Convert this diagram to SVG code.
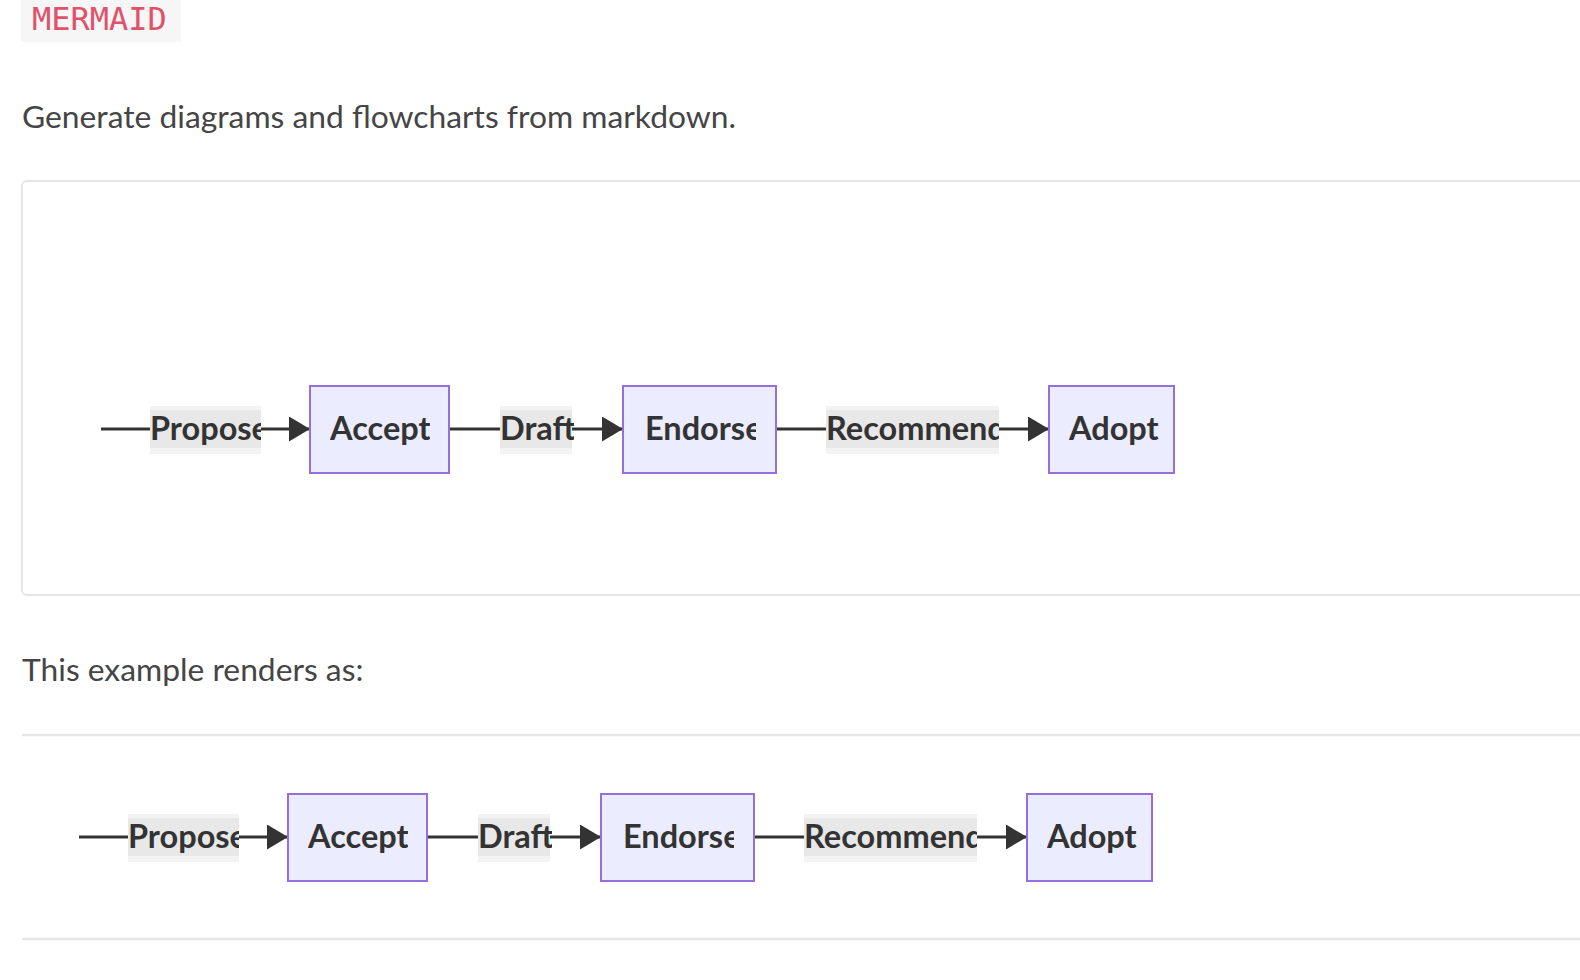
<svg xmlns="http://www.w3.org/2000/svg" width="1580" height="980" viewBox="0 0 1580 980">
<defs>
<style>
.body{font-family:Lato,"Open Sans","Liberation Sans",sans-serif;font-size:31.8px;fill:#454545}
.code{font-family:"DejaVu Sans Mono","Liberation Mono",monospace;font-size:32px;fill:#e0526a}
.node rect{fill:#ECECFF;stroke:#9370DB;stroke-width:2}
.ntext{font-family:Lato,"Open Sans","Liberation Sans",sans-serif;font-size:32.5px;font-weight:700;fill:#333}
.edge{stroke:#333;stroke-width:3.2;fill:none}
.lbl-outer{fill:#f3f3f3}
.lbl-inner{fill:#e8e8e8}
.rule{stroke:#e6e6e6;stroke-width:2.5}
</style>
<marker id="arrow" markerUnits="userSpaceOnUse" markerWidth="22" markerHeight="26" refX="21" refY="12.5" orient="auto">
<path d="M0,0 L21,12.5 L0,25 z" fill="#333"/>
</marker>
<clipPath id="c-propose"><rect x="150" y="400" width="111" height="60"/></clipPath>
<clipPath id="c-draft"><rect x="500" y="400" width="74" height="60"/></clipPath>
<clipPath id="c-recommend"><rect x="826" y="400" width="173" height="60"/></clipPath>
<clipPath id="c-accept"><rect x="330" y="390" width="100" height="80"/></clipPath>
<clipPath id="c-endorse"><rect x="645" y="390" width="111" height="80"/></clipPath>
<clipPath id="c-adopt"><rect x="1069" y="390" width="94" height="80"/></clipPath>
</defs>
<rect width="1580" height="980" fill="#ffffff"/>

<g id="header">
<rect x="21" y="-4" width="160" height="46" fill="#f6f6f6"/>
<text class="code" x="32" y="30">MERMAID</text>
<text class="body" x="22" y="128">Generate diagrams and flowcharts from markdown.</text>
</g>

<rect id="code-box" x="22" y="181" width="1600" height="414" rx="5" fill="none" stroke="#e6e6e6" stroke-width="2"/>

<g id="diagram-top">
<g id="top-edges">
<line class="edge" x1="101" y1="429" x2="310" y2="429" marker-end="url(#arrow)"/>
<line class="edge" x1="449" y1="429" x2="623" y2="429" marker-end="url(#arrow)"/>
<line class="edge" x1="776" y1="429" x2="1049" y2="429" marker-end="url(#arrow)"/>
<g id="top-label-propose"><rect class="lbl-outer" x="150" y="406" width="111" height="48"/><rect class="lbl-inner" x="150" y="410" width="111" height="38"/><text class="ntext" x="150" y="440" clip-path="url(#c-propose)">Propose</text></g>
<g id="top-label-draft"><rect class="lbl-outer" x="500" y="406" width="72" height="48"/><rect class="lbl-inner" x="500" y="410" width="72" height="38"/><text class="ntext" x="500" y="440" clip-path="url(#c-draft)">Draft</text></g>
<g id="top-label-recommend"><rect class="lbl-outer" x="826" y="406" width="173" height="48"/><rect class="lbl-inner" x="826" y="410" width="173" height="38"/><text class="ntext" x="826" y="440" clip-path="url(#c-recommend)">Recommend</text></g>
</g>
<g id="top-accept" class="node"><rect x="310" y="386" width="139" height="87"/><text class="ntext" x="330" y="440" clip-path="url(#c-accept)">Accept</text></g>
<g id="top-endorse" class="node"><rect x="623" y="386" width="153" height="87"/><text class="ntext" x="645" y="440" clip-path="url(#c-endorse)">Endorse</text></g>
<g id="top-adopt" class="node"><rect x="1049" y="386" width="125" height="87"/><text class="ntext" x="1069" y="440" clip-path="url(#c-adopt)">Adopt</text></g>
</g>

<text class="body" x="22" y="681">This example renders as:</text>
<line class="rule" x1="22" y1="735" x2="1580" y2="735"/>

<g id="diagram-bottom" transform="translate(-22,408)">
<g id="bottom-edges">
<line class="edge" x1="101" y1="429" x2="310" y2="429" marker-end="url(#arrow)"/>
<line class="edge" x1="449" y1="429" x2="623" y2="429" marker-end="url(#arrow)"/>
<line class="edge" x1="776" y1="429" x2="1049" y2="429" marker-end="url(#arrow)"/>
<g id="bottom-label-propose"><rect class="lbl-outer" x="150" y="406" width="111" height="48"/><rect class="lbl-inner" x="150" y="410" width="111" height="38"/><text class="ntext" x="150" y="440" clip-path="url(#c-propose)">Propose</text></g>
<g id="bottom-label-draft"><rect class="lbl-outer" x="500" y="406" width="72" height="48"/><rect class="lbl-inner" x="500" y="410" width="72" height="38"/><text class="ntext" x="500" y="440" clip-path="url(#c-draft)">Draft</text></g>
<g id="bottom-label-recommend"><rect class="lbl-outer" x="826" y="406" width="173" height="48"/><rect class="lbl-inner" x="826" y="410" width="173" height="38"/><text class="ntext" x="826" y="440" clip-path="url(#c-recommend)">Recommend</text></g>
</g>
<g id="bottom-accept" class="node"><rect x="310" y="386" width="139" height="87"/><text class="ntext" x="330" y="440" clip-path="url(#c-accept)">Accept</text></g>
<g id="bottom-endorse" class="node"><rect x="623" y="386" width="153" height="87"/><text class="ntext" x="645" y="440" clip-path="url(#c-endorse)">Endorse</text></g>
<g id="bottom-adopt" class="node"><rect x="1049" y="386" width="125" height="87"/><text class="ntext" x="1069" y="440" clip-path="url(#c-adopt)">Adopt</text></g>
</g>

<line class="rule" x1="22" y1="939" x2="1580" y2="939"/>
</svg>
